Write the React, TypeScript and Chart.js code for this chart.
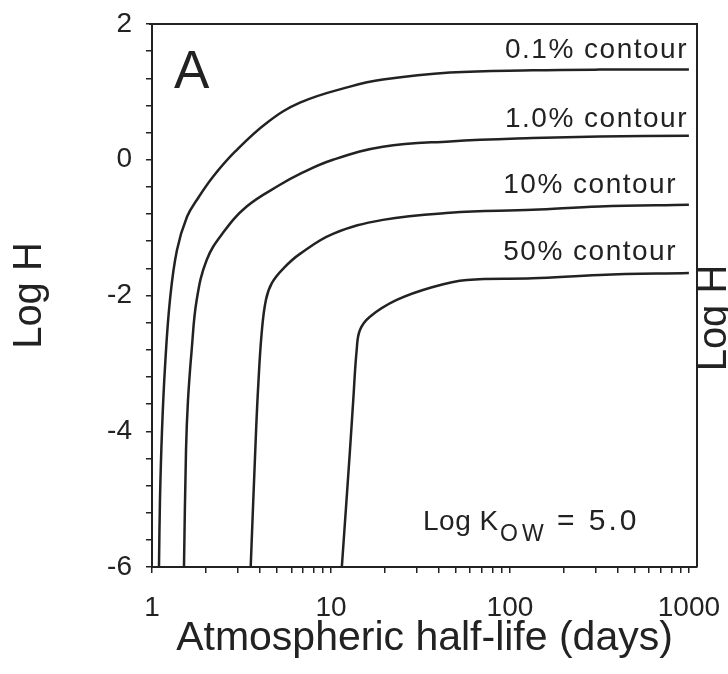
import { useEffect, useRef } from "react";
import { Chart, registerables } from "chart.js";

Chart.register(...registerables);

// ---- data ----
const xTickLabels = [1, 10, 100, 1000];
const yTickLabels = [-6, -4, -2, 0, 2];

const contourNames = ["0.1% contour", "1.0% contour", "10% contour", "50% contour"];

const c01X = [1.094, 1.108, 1.137, 1.182, 1.26, 1.379, 1.569, 1.784, 2.192, 2.909, 4.39, 6.71, 12.77, 19.5, 46.2, 134, 317, 1000];
const c01Y = [-6, -5.02, -4.0, -3.055, -2.066, -1.328, -0.841, -0.59, -0.251, 0.118, 0.546, 0.841, 1.077, 1.181, 1.284, 1.318, 1.328, 1.328];

const c1X = [1.509, 1.549, 1.589, 1.666, 1.777, 2.021, 2.492, 3.381, 5.19, 6.71, 10.26, 19.5, 46.2, 134, 317, 1000];
const c1Y = [-6, -4.28, -3.542, -2.804, -2.066, -1.476, -1.077, -0.689, -0.369, -0.207, 0.0, 0.192, 0.27, 0.32, 0.344, 0.354];

const c10X = [3.56, 3.81, 3.93, 4.1, 4.33, 4.68, 5.46, 6.71, 10.26, 19.5, 46.2, 134, 317, 1000];
const c10Y = [-6, -4.03, -3.292, -2.554, -2.066, -1.815, -1.594, -1.387, -1.092, -0.886, -0.782, -0.738, -0.689, -0.664];

const c50X = [11.5, 12.77, 13.32, 13.92, 14.52, 16.51, 23.3, 37.1, 57.5, 134, 317, 1000];
const c50Y = [-6, -4.28, -3.542, -2.804, -2.509, -2.313, -2.066, -1.875, -1.771, -1.746, -1.697, -1.668];

const kowText = "Log K";
const kowSub = "OW";
const kowRest = "= 5.0";
const panelLetter = "A";
const xTitle = "Atmospheric half-life (days)";
const yTitle = "Log H";

const FONT = '"Liberation Sans", Arial, Helvetica, sans-serif';
const INK = "#222";

function toPoints(xs: number[], ys: number[]) {
  return xs.map((x, i) => ({ x, y: ys[i] }));
}

const overlayPlugin = {
  id: "overlay",
  afterDraw(chart: any) {
    const { ctx, chartArea: a } = chart;
    ctx.save();
    // top & right frame
    ctx.strokeStyle = INK;
    ctx.lineWidth = 2;
    ctx.beginPath();
    ctx.moveTo(a.left - 3, a.top);
    ctx.lineTo(a.right, a.top);
    ctx.lineTo(a.right, a.bottom);
    ctx.stroke();

    ctx.fillStyle = INK;
    ctx.textBaseline = "alphabetic";

    // panel letter
    ctx.textAlign = "left";
    ctx.font = `53px ${FONT}`;
    ctx.fillText(panelLetter, a.left + 22, a.top + 63.5);

    // contour labels
    ctx.textAlign = "right";
    ctx.font = `28px ${FONT}`;
    (ctx as any).letterSpacing = "1.5px";
    const base = [58, 127, 193, 260];
    const rights = [688, 688, 677, 677];
    contourNames.forEach((t, i) => {
      ctx.fillText(t, a.left + (rights[i] - 152), a.top + (base[i] - 24.5));
    });

    // Log K_ow = 5.0
    ctx.textAlign = "left";
    ctx.font = `28px ${FONT}`;
    (ctx as any).letterSpacing = "0.5px";
    ctx.fillText(kowText, a.left + (423 - 152), a.top + (530 - 24.5));
    ctx.font = `23px ${FONT}`;
    (ctx as any).letterSpacing = "4px";
    ctx.fillText(kowSub, a.left + (500 - 152), a.top + (541 - 24.5));
    ctx.font = `30px ${FONT}`;
    (ctx as any).letterSpacing = "3px";
    ctx.fillText(kowRest, a.left + (557 - 152), a.top + (530 - 24.5));
    (ctx as any).letterSpacing = "0px";

    // fragment of neighbouring panel's axis title at the right edge
    ctx.font = `40px ${FONT}`;
    ctx.textAlign = "center";
    ctx.translate(726, 318);
    ctx.rotate(-Math.PI / 2);
    ctx.fillText(yTitle, 0, 0);
    ctx.restore();
  },
};

export default function App() {
  const ref = useRef<HTMLCanvasElement | null>(null);

  useEffect(() => {
    if (!ref.current) return;
    const mk = (xs: number[], ys: number[], label: string) => ({
      label,
      data: toPoints(xs, ys),
      showLine: true,
      borderColor: INK,
      backgroundColor: INK,
      borderWidth: 2.5,
      pointRadius: 0,
      tension: 0.4,
    });
    const chart = new Chart(ref.current, {
      type: "scatter",
      data: {
        datasets: [
          mk(c01X, c01Y, contourNames[0]),
          mk(c1X, c1Y, contourNames[1]),
          mk(c10X, c10Y, contourNames[2]),
          mk(c50X, c50Y, contourNames[3]),
        ],
      },
      options: {
        animation: false,
        responsive: false,
        layout: { padding: { left: 0, right: 31, top: 24, bottom: 0 } },
        plugins: { legend: { display: false }, tooltip: { enabled: false } },
        scales: {
          x: {
            type: "logarithmic",
            min: 1,
            max: 1110,
            afterBuildTicks: (s: any) => {
              const t: any[] = [];
              for (let d = 1; d <= 1000; d *= 10) {
                for (let m = 1; m < 10; m++) {
                  const v = d * m;
                  if (v <= 1000) t.push({ value: v });
                }
              }
              s.ticks = t;
            },
            afterFit: (s: any) => {
              s.height = 107;
              s.paddingLeft = 0;
              s.paddingRight = 0;
            },
            ticks: {
              autoSkip: false,
              maxRotation: 0,
              padding: 18,
              color: INK,
              font: { family: FONT, size: 28 },
              callback: (v: any) => (xTickLabels.includes(Number(v)) ? String(v) : ""),
            },
            grid: { drawOnChartArea: false, drawTicks: true, tickLength: 6, color: INK, lineWidth: 1.5 },
            border: { display: true, color: INK, width: 2 },
            title: {
              display: true,
              text: xTitle,
              color: INK,
              font: { family: FONT, size: 41 },
              padding: { top: 0, bottom: 11 },
            },
          },
          y: {
            type: "linear",
            min: -6,
            max: 2,
            afterBuildTicks: (s: any) => {
              const t: any[] = [];
              for (let i = 0; i <= 20; i++) t.push({ value: Math.round((-6 + i * 0.4) * 10) / 10 });
              s.ticks = t;
            },
            afterFit: (s: any) => {
              s.width = 152;
              s.paddingTop = 0;
              s.paddingBottom = 0;
            },
            ticks: {
              autoSkip: false,
              padding: 14,
              color: INK,
              font: { family: FONT, size: 28 },
              callback: (v: any) => (yTickLabels.includes(Number(v)) ? String(v) : ""),
            },
            grid: { drawOnChartArea: false, drawTicks: true, tickLength: 6, color: INK, lineWidth: 1.5 },
            border: { display: true, color: INK, width: 2 },
            title: {
              display: true,
              text: yTitle,
              color: INK,
              font: { family: FONT, size: 40 },
              padding: { top: 6, bottom: 0 },
            },
          },
        },
      },
      plugins: [overlayPlugin],
    });
    return () => chart.destroy();
  }, []);

  return (
    <div style={{ position: "absolute", left: 0, top: 0, width: 728, height: 674, background: "#fff" }}>
      <canvas ref={ref} width={728} height={674} style={{ display: "block" }} />
    </div>
  );
}
